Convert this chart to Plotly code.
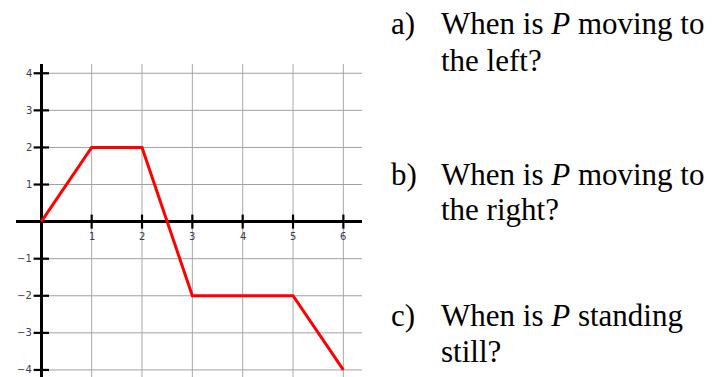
import plotly.graph_objects as go

# Position of P over time
t_vals = [0, 1, 2, 3, 5, 6]
pos_vals = [0, 2, 2, -2, -2, -4]

# Axis ticks and their labels
x_ticks = [1, 2, 3, 4, 5, 6]
x_tick_labels = ["1", "2", "3", "4", "5", "6"]
y_ticks = [4, 3, 2, 1, -1, -2, -3, -4]
y_tick_labels = ["4", "3", "2", "1", "\u22121", "\u22122", "\u22123", "\u22124"]

# Questions printed beside the graph
q_letters = ["a)", "b)", "c)"]
q_lines = [
    ["When is <i>P</i> moving to", "the left?"],
    ["When is <i>P</i> moving to", "the right?"],
    ["When is <i>P</i> standing", "still?"],
]

X_RANGE = [-0.503, 6.37]
Y_RANGE = [-4.19, 4.25]

W, H = 714, 377
M_L, M_R, M_T, M_B = 16, 352, 64, 0
PLOT_W = W - M_L - M_R
PLOT_H = H - M_T - M_B


def px_x(px):
    return (px - M_L) / PLOT_W


def px_y(py):
    return (H - M_B - py) / PLOT_H


fig = go.Figure()

# tick marks crossing the axes
fig.add_trace(go.Scatter(
    x=x_ticks, y=[0] * len(x_ticks), mode="markers",
    marker=dict(symbol="line-ns", size=10, line=dict(width=2.2, color="black")),
    hoverinfo="skip", showlegend=False, cliponaxis=False,
))
fig.add_trace(go.Scatter(
    x=[0] * len(y_ticks), y=y_ticks, mode="markers",
    marker=dict(symbol="line-ew", size=11, line=dict(width=2.2, color="black")),
    hoverinfo="skip", showlegend=False, cliponaxis=False,
))

# the position graph
fig.add_trace(go.Scatter(
    x=t_vals, y=pos_vals, mode="lines",
    line=dict(color="#ff0000", width=3),
    hoverinfo="skip", showlegend=False,
))

shapes = []
for xt in x_ticks:
    shapes.append(dict(type="line", xref="x", yref="paper", x0=xt, x1=xt, y0=0, y1=1,
                       line=dict(color="#a8a8a8", width=1), layer="below"))
for yt in y_ticks:
    shapes.append(dict(type="line", xref="x", yref="y", x0=0, x1=X_RANGE[1], y0=yt, y1=yt,
                       line=dict(color="#a0a0a0", width=1), layer="below"))

annotations = []
tick_font = dict(family="DejaVu Sans", size=10, color="#3c3c4c")
for xt, lab in zip(x_ticks, x_tick_labels):
    annotations.append(dict(x=xt, y=0, xref="x", yref="y", text=lab, showarrow=False,
                            xanchor="center", yanchor="top", yshift=-7, font=tick_font))
for yt, lab in zip(y_ticks, y_tick_labels):
    annotations.append(dict(x=0, y=yt, xref="x", yref="y", text=lab, showarrow=False,
                            xanchor="right", yanchor="middle", xshift=-7, font=tick_font))

q_font = dict(family="Liberation Serif", size=31, color="black")
baselines = [(34, 70), (184, 220), (325, 361)]
for letter, lines, (b1, b2) in zip(q_letters, q_lines, baselines):
    annotations.append(dict(x=px_x(390), y=px_y(b1 - 10), xref="paper", yref="paper",
                            text=letter, showarrow=False, xanchor="left", yanchor="middle",
                            font=q_font, borderpad=0))
    annotations.append(dict(x=px_x(440), y=px_y(b1 - 10), xref="paper", yref="paper",
                            text=lines[0], showarrow=False, xanchor="left", yanchor="middle",
                            font=q_font, borderpad=0))
    annotations.append(dict(x=px_x(440), y=px_y(b2 - 10), xref="paper", yref="paper",
                            text=lines[1], showarrow=False, xanchor="left", yanchor="middle",
                            font=q_font, borderpad=0))

fig.update_layout(
    width=W, height=H,
    margin=dict(l=M_L, r=M_R, t=M_T, b=M_B),
    paper_bgcolor="white", plot_bgcolor="white",
    shapes=shapes, annotations=annotations,
    xaxis=dict(range=X_RANGE, showgrid=False, showticklabels=False, ticks="",
               zeroline=True, zerolinecolor="black", zerolinewidth=3, fixedrange=True),
    yaxis=dict(range=Y_RANGE, showgrid=False, showticklabels=False, ticks="",
               zeroline=True, zerolinecolor="black", zerolinewidth=3, fixedrange=True),
)

fig.write_html("out.html", config={"displayModeBar": False})
